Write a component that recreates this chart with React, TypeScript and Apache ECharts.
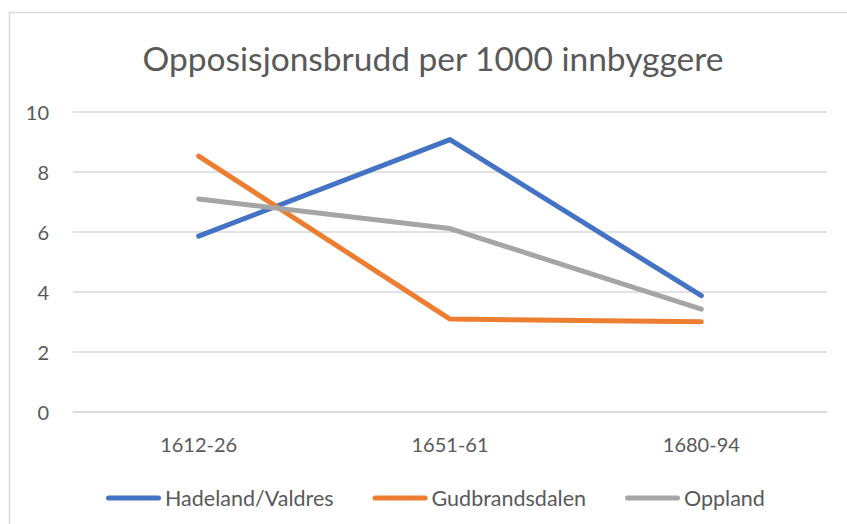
import React, { useEffect, useRef } from "react";
import * as echarts from "echarts";

const categories = ["1612-26", "1651-61", "1680-94"];
const seriesNames = ["Hadeland/Valdres", "Gudbrandsdalen", "Oppland"];
const hadeland = [5.86, 9.08, 3.87];
const gudbrandsdalen = [8.53, 3.09, 3.0];
const oppland = [7.1, 6.11, 3.42];
const colors = ["#4472C4", "#ED7D31", "#A5A5A5"];

const FONT = "Lato";
const LEGEND_ICON =
  "path://M2.5,0 L52.5,0 A2.5,2.5 0 0 1 52.5,5 L2.5,5 A2.5,2.5 0 0 1 2.5,0 Z";

export default function App() {
  const ref = useRef<HTMLDivElement>(null);
  useEffect(() => {
    if (!ref.current) return;
    const chart = echarts.init(ref.current, undefined, { renderer: "svg" });
    const values = [hadeland, gudbrandsdalen, oppland];
    chart.setOption({
      animation: false,
      backgroundColor: "#ffffff",
      textStyle: { fontFamily: FONT },
      title: {
        text: "Opposisjonsbrudd per 1000 innbyggere",
        left: 428,
        textAlign: "center",
        top: 36,
        textStyle: { fontFamily: FONT, fontSize: 33.5, fontWeight: "normal", color: "#595959" },
      },
      graphic: [
        {
          type: "rect",
          shape: { x: 9.5, y: 12.5, width: 900, height: 600 },
          style: { fill: "none", stroke: "#D9D9D9", lineWidth: 1.5 },
          silent: true,
        },
      ],
      legend: {
        left: 101,
        top: 482,
        itemWidth: 55,
        itemHeight: 5,
        itemGap: 39,
        icon: LEGEND_ICON,
        textStyle: { fontFamily: FONT, fontSize: 21.5, color: "#595959", padding: [0, 0, 0, -1] },
        data: seriesNames,
      },
      grid: { left: 73, right: 20, top: 112, bottom: 112.3 },
      xAxis: {
        type: "category",
        data: categories,
        boundaryGap: true,
        axisLine: { show: true, lineStyle: { color: "#D9D9D9", width: 1.5 } },
        axisTick: { show: false },
        axisLabel: { margin: 22, fontFamily: FONT, fontSize: 20, color: "#595959" },
      },
      yAxis: {
        type: "value",
        min: 0,
        max: 10,
        interval: 2,
        axisLine: { show: false },
        axisTick: { show: false },
        splitLine: { lineStyle: { color: "#D9D9D9", width: 1.5 } },
        axisLabel: { margin: 24, fontFamily: FONT, fontSize: 20, color: "#595959" },
      },
      series: seriesNames.map((name, i) => ({
        name,
        type: "line",
        data: values[i],
        symbol: "none",
        color: colors[i],
        lineStyle: { width: 5, color: colors[i], cap: "round", join: "round" },
      })),
    });
    return () => chart.dispose();
  }, []);
  return (
    <div
      ref={ref}
      style={{ position: "absolute", left: 0, top: 0, width: 847, height: 524 }}
    />
  );
}
